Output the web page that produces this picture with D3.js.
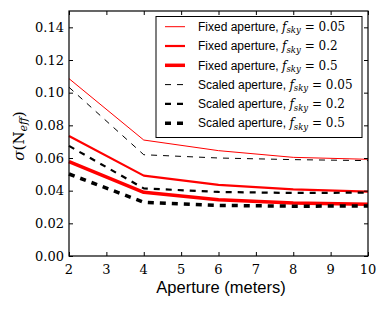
<!DOCTYPE html>
<html><head><meta charset="utf-8">
<script src="https://cdn.jsdelivr.net/npm/d3@7"></script>
<style>html,body{margin:0;padding:0;background:#fff;}</style>
</head><body>
<svg id="c" width="388" height="310"></svg>
<script>
const apertures = [2, 4, 6, 8, 10];
const fixed005  = [0.1086, 0.0710, 0.0645, 0.0604, 0.0592];
const fixed02   = [0.0735, 0.0492, 0.0435, 0.0408, 0.0394];
const fixed05   = [0.0578, 0.0390, 0.0345, 0.0325, 0.0317];
const scaled005 = [0.1033, 0.0620, 0.0600, 0.0590, 0.0584];
const scaled02  = [0.0674, 0.0414, 0.0392, 0.0386, 0.0388];
const scaled05  = [0.0502, 0.0329, 0.0310, 0.0305, 0.0306];
const xTicks = [2, 3, 4, 5, 6, 7, 8, 9, 10];
const yTicks = [0, 0.02, 0.04, 0.06, 0.08, 0.10, 0.12, 0.14];
const seriesNames = ["Fixed aperture, ", "Fixed aperture, ", "Fixed aperture, ",
                     "Scaled aperture, ", "Scaled aperture, ", "Scaled aperture, "];
const fskyLabels = ["0.05", "0.2", "0.5", "0.05", "0.2", "0.5"];

const series = [
  {vals: fixed005, color: "#ff0000", w: 1, dash: null},
  {vals: fixed02, color: "#ff0000", w: 2.2, dash: null},
  {vals: fixed05, color: "#ff0000", w: 3.5, dash: null},
  {vals: scaled005, color: "#000", w: 1, dash: "6,6"},
  {vals: scaled02, color: "#000", w: 2.2, dash: "6,6"},
  {vals: scaled05, color: "#000", w: 3.5, dash: "6,6"}
];

const L = 69, R = 368, T = 11, B = 256;
const svg = d3.select("#c");
const x = d3.scaleLinear().domain([2, 10]).range([L, R]);
const y = d3.scaleLinear().domain([0, 0.15]).range([B, T]);

const serif = "'DejaVu Serif', serif";
const sans = "'Liberation Sans', Arial, sans-serif";

// lines
const line = d3.line().x((d, i) => x(apertures[i])).y(d => y(d));
svg.append("g").selectAll("path").data(series).join("path")
  .attr("d", s => line(s.vals))
  .attr("fill", "none")
  .attr("stroke", s => s.color)
  .attr("stroke-width", s => s.w)
  .attr("stroke-dasharray", s => s.dash)
  .attr("stroke-linejoin", "round");

// axes (inward ticks on all sides)
const fmt = d3.format(".2f");
const axL = svg.append("g").attr("transform", `translate(${L},0)`)
  .call(d3.axisRight(y).tickValues(yTicks).tickSize(4).tickFormat(""));
const axR = svg.append("g").attr("transform", `translate(${R},0)`)
  .call(d3.axisLeft(y).tickValues(yTicks).tickSize(4).tickFormat(""));
const axB = svg.append("g").attr("transform", `translate(0,${B})`)
  .call(d3.axisTop(x).tickValues(xTicks).tickSize(4).tickFormat(""));
const axT = svg.append("g").attr("transform", `translate(0,${T})`)
  .call(d3.axisBottom(x).tickValues(xTicks).tickSize(4).tickFormat(""));
[axL, axR, axB, axT].forEach(a => { a.select(".domain").remove(); a.selectAll("line").attr("stroke", "#000"); });

svg.append("rect").attr("x", L).attr("y", T).attr("width", R - L).attr("height", B - T)
  .attr("fill", "none").attr("stroke", "#000").attr("stroke-width", 1.2);

// tick labels
svg.append("g").selectAll("text").data(yTicks).join("text")
  .attr("x", L - 5).attr("y", d => y(d)).attr("dy", "0.36em")
  .attr("text-anchor", "end").attr("font-family", serif).attr("font-size", 13)
  .text(d => fmt(d));
svg.append("g").selectAll("text").data(xTicks).join("text")
  .attr("x", d => x(d)).attr("y", 274)
  .attr("text-anchor", "middle").attr("font-family", serif).attr("font-size", 13)
  .text(d => d);

// axis labels
svg.append("text").attr("x", 221).attr("y", 293)
  .attr("text-anchor", "middle").attr("font-family", sans).attr("font-size", 16.5)
  .text("Aperture (meters)");

const yl = svg.append("text").attr("transform", "translate(24,136) rotate(-90)")
  .attr("text-anchor", "middle").attr("font-family", serif).attr("font-size", 15);
yl.append("tspan").attr("font-style", "italic").text("σ");
yl.append("tspan").text("(N");
yl.append("tspan").attr("font-style", "italic").attr("font-size", 11).attr("dy", 3).text("eff");
yl.append("tspan").attr("dy", -3).text(")");

// legend
const lg = svg.append("g");
lg.append("rect").attr("x", 156).attr("y", 16.5).attr("width", 206).attr("height", 121)
  .attr("fill", "#fff").attr("stroke", "#000").attr("stroke-width", 1);
const rowY = i => 26.7 + i * 19.3;
series.forEach((s, i) => {
  lg.append("line").attr("x1", 165).attr("x2", 185).attr("y1", rowY(i)).attr("y2", rowY(i))
    .attr("stroke", s.color).attr("stroke-width", s.w).attr("stroke-dasharray", s.dash);
  const t = lg.append("text").attr("x", 198).attr("y", rowY(i)).attr("dy", "0.35em")
    .attr("font-size", 12);
  t.append("tspan").attr("font-family", sans).text(seriesNames[i]);
  t.append("tspan").attr("font-family", serif).attr("font-style", "italic").text("f");
  t.append("tspan").attr("font-family", serif).attr("font-style", "italic").attr("font-size", 8.5).attr("dy", 2.5).text("sky");
  t.append("tspan").attr("font-family", serif).attr("dy", -2.5).text(" = " + fskyLabels[i]);
});
</script>
</body></html>
